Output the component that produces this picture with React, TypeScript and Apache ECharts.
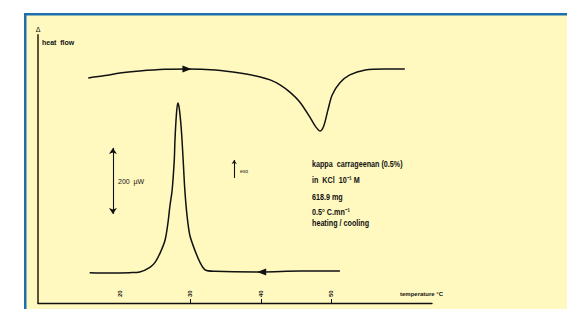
import React, { useEffect, useRef } from "react";
import * as echarts from "echarts";

// temperature (°C) and heat flow (µW, relative to cooling baseline)
const heatingT = [15.5, 17.9, 20.0, 22.8, 26.4, 29.5, 33.5, 37.0, 39.9, 41.3, 42.7, 44.1, 45.5, 47.0, 47.8, 48.4, 48.9, 49.5, 50.1, 51.2, 52.6, 54.8, 57.6, 60.4];
const heatingQ = [588, 595, 603, 609, 614, 615, 612, 603, 591, 582, 567, 545, 515, 467, 439, 427, 442, 491, 536, 573, 597, 612, 615, 615];
const coolingT = [15.7, 18.6, 21.4, 22.8, 24.3, 25.0, 25.7, 26.4, 26.8, 27.1, 27.4, 27.7, 27.8, 28.0, 28.2, 28.4, 28.65, 28.8, 29.0, 29.2, 29.5, 29.9, 30.6, 31.4, 32.1, 33.5, 40.1, 45.5, 51.2];
const coolingQ = [-2, -3, -2, 0, 15, 30, 58, 97, 148, 203, 248, 339, 400, 476, 512, 497, 445, 400, 324, 248, 173, 112, 67, 27, 6, 2, 0, 3, 3];
const tickValues = [30, 40, 50];
const tickLabels = [20, 30, 40, 50];
const scaleBar = [176, 376]; // 200 µW
const noteLines = ["kappa  carrageenan (0.5%)", "in  KCl  10⁻¹ M", "618.9 mg", "0.5° C.mn⁻¹", "heating / cooling"];

const zip = (a: number[], b: number[]) => a.map((v, i) => [v, b[i]]);

export default function App() {
  const ref = useRef<HTMLDivElement>(null);
  useEffect(() => {
    document.body.style.margin = "0";
    const chart = echarts.init(ref.current!, null, { renderer: "svg" });
    const ink = "#111";
    const font = "Liberation Sans, Arial, sans-serif";
    const noteY = [164, 180, 197, 212, 223];
    chart.setOption({
      animation: false,
      backgroundColor: "#ffffff",
      grid: { left: 38, right: 135, top: 35, bottom: 6 },
      xAxis: {
        type: "value",
        min: 8.37,
        max: 64.26,
        axisLine: { show: true, onZero: false, lineStyle: { color: ink, width: 1.3 } },
        axisTick: { show: true, inside: true, length: 4, customValues: tickValues, lineStyle: { color: ink, width: 1 } },
        axisLabel: { show: true, inside: true, rotate: 90, margin: 6, customValues: tickLabels, fontSize: 6, color: ink, fontFamily: font, fontWeight: "bold" },
        splitLine: { show: false },
      },
      yAxis: {
        type: "value",
        min: -94,
        max: 718,
        axisLine: { show: true, onZero: false, lineStyle: { color: "#5c5538", width: 2 } },
        axisTick: { show: false },
        axisLabel: { show: false },
        splitLine: { show: false },
      },
      graphic: [
        { type: "rect", z: -10, shape: { x: 24, y: 13, width: 543, height: 296 }, style: { fill: "#fff9c0" } },
        { type: "rect", z: -9, shape: { x: 24, y: 13, width: 543, height: 2.5 }, style: { fill: "#1f6fae" } },
        { type: "rect", z: -9, shape: { x: 24, y: 13, width: 2.5, height: 296 }, style: { fill: "#1f6fae" } },
        { type: "text", x: 38, y: 29, style: { text: "Δ", fontSize: 7, fill: ink, align: "center", verticalAlign: "middle", fontFamily: font } },
        { type: "text", x: 42, y: 42, style: { text: "heat  flow", fontSize: 7, fontWeight: "bold", fill: ink, verticalAlign: "middle", fontFamily: font } },
        { type: "text", x: 400, y: 294, style: { text: "temperature °C", fontSize: 6, fontWeight: "bold", fill: ink, verticalAlign: "middle", fontFamily: font } },
        { type: "text", x: 118, y: 181, style: { text: "200  µW", fontSize: 7, fill: ink, verticalAlign: "middle", fontFamily: font } },
        { type: "text", x: 240, y: 171, style: { text: "exo", fontSize: 5, fill: ink, verticalAlign: "middle", fontFamily: font } },
        ...noteLines.map((t, i) => ({
          type: "text",
          x: 312,
          y: noteY[i],
          scaleX: 0.8,
          style: { text: t, fontSize: 9, fontWeight: "bold", fill: ink, verticalAlign: "middle", fontFamily: font },
        })),
      ],
      series: [
        {
          type: "line",
          data: zip(heatingT, heatingQ),
          showSymbol: false,
          smooth: 0.3,
          lineStyle: { color: ink, width: 1.5 },
          markPoint: {
            symbol: "triangle",
            symbolSize: [7, 9],
            symbolRotate: -90,
            itemStyle: { color: ink },
            label: { show: false },
            data: [{ coord: [29.5, 615] }],
          },
        },
        {
          type: "line",
          data: zip(coolingT, coolingQ),
          showSymbol: false,
          smooth: 0.3,
          lineStyle: { color: ink, width: 1.5 },
          markPoint: {
            symbol: "triangle",
            symbolSize: [7, 9],
            symbolRotate: 90,
            itemStyle: { color: ink },
            label: { show: false },
            data: [{ coord: [40.1, 0] }],
          },
          markLine: {
            silent: true,
            symbol: ["arrow", "arrow"],
            symbolSize: 6,
            label: { show: false },
            lineStyle: { color: ink, width: 1.1, type: "solid" },
            data: [[{ coord: [19.0, scaleBar[0]] }, { coord: [19.0, scaleBar[1]] }]],
          },
        },
        {
          type: "line",
          data: [],
          markLine: {
            silent: true,
            symbol: ["none", "arrow"],
            symbolSize: 4,
            label: { show: false },
            lineStyle: { color: ink, width: 1.1, type: "solid" },
            data: [[{ coord: [36.2, 285] }, { coord: [36.2, 339] }]],
          },
        },
      ],
    });
    return () => chart.dispose();
  }, []);
  return <div ref={ref} style={{ width: 567, height: 309 }} />;
}
